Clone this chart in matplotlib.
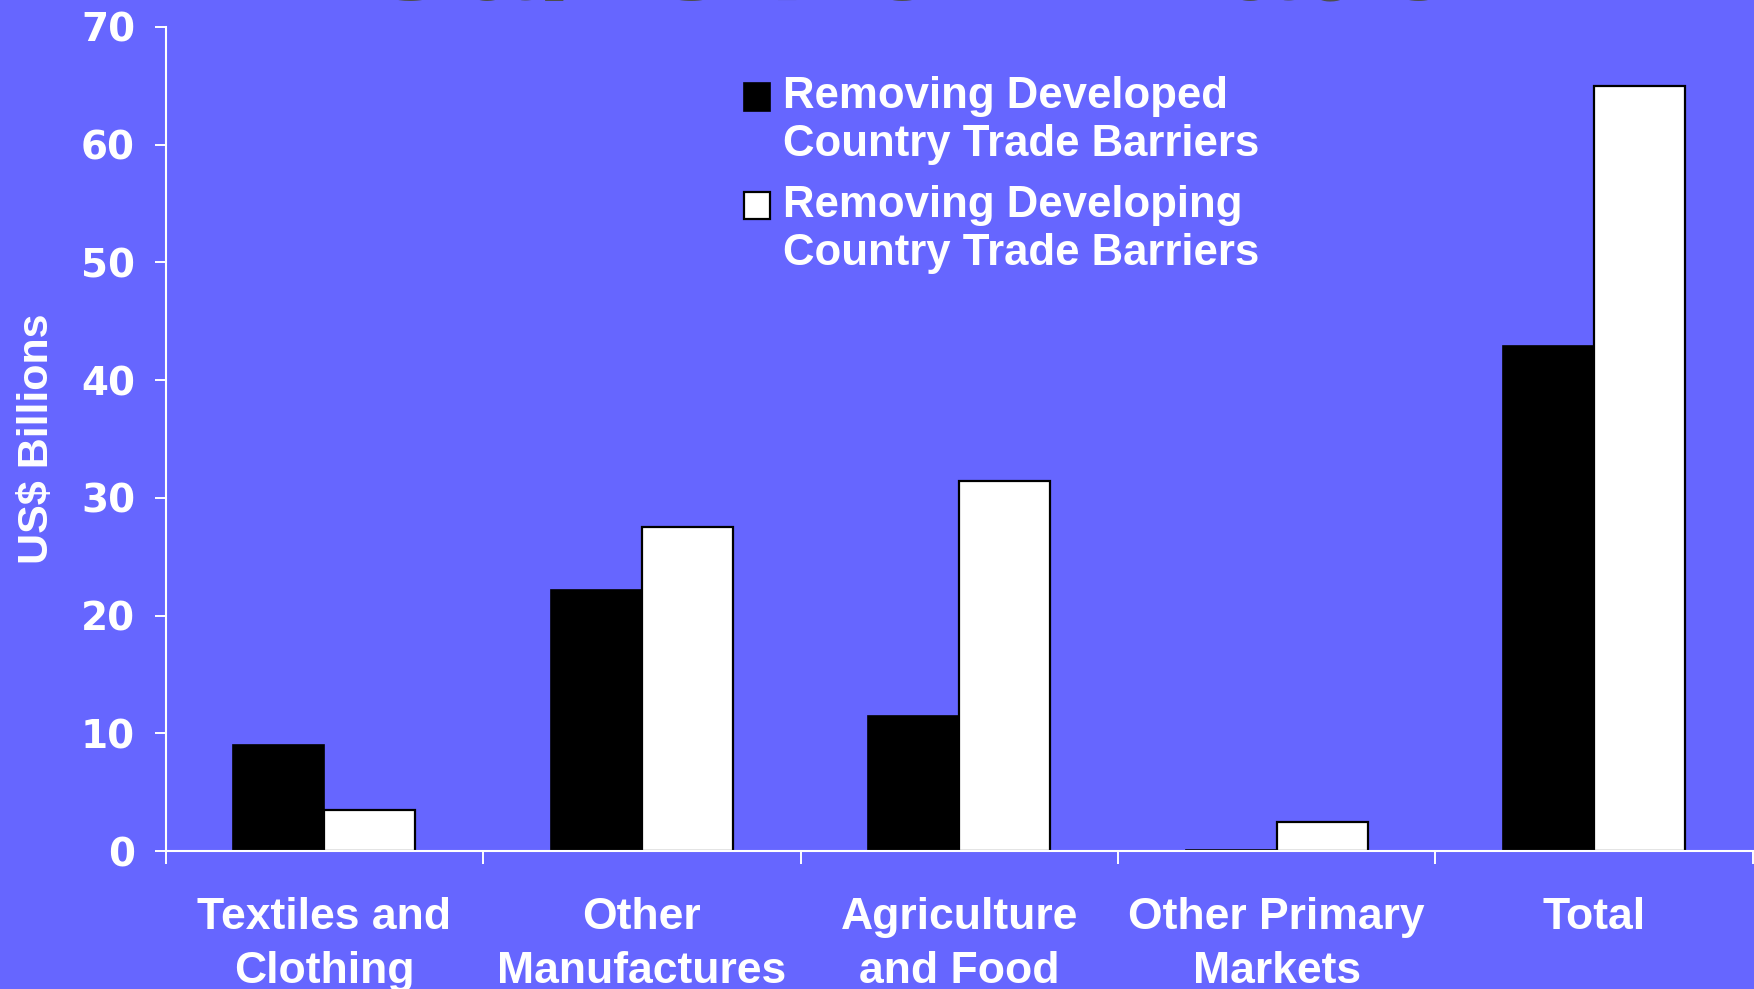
import matplotlib
matplotlib.use("Agg")
import matplotlib.pyplot as plt
import numpy as np
from matplotlib.container import BarContainer
from matplotlib.legend_handler import HandlerPatch, update_from_first_child
from matplotlib.patches import Rectangle

# data
categories = ["Textiles and\nClothing", "Other\nManufactures", "Agriculture\nand Food",
              "Other Primary\nMarkets", "Total"]
developed = [9.0, 22.2, 11.5, 0.1, 42.9]
developing = [3.5, 27.5, 31.4, 2.5, 65.0]
series_labels = ["Removing Developed\nCountry Trade Barriers",
                 "Removing Developing\nCountry Trade Barriers"]
yticks = [0, 10, 20, 30, 40, 50, 60, 70]

BG = "#6666FF"
TXT = "white"
LABEL_FONT = ["Liberation Sans", "DejaVu Sans"]


def top_line_box(legend, orig_handle, xdescent, ydescent, width, height, fontsize):
    # put the swatch beside the first line of a two-line label
    return Rectangle((-xdescent, -ydescent + fontsize * 0.56), width, height)


fig = plt.figure(figsize=(17.54, 9.89), dpi=100, facecolor=BG)
ax = fig.add_axes([0.0944, 0.1395, 0.9050, 0.8332], facecolor=BG)

x = np.arange(len(categories))
w = 0.287
ax.bar(x - w / 2, developed, w, color="black", edgecolor="black", linewidth=1.2,
       label=series_labels[0])
ax.bar(x + w / 2, developing, w, color="white", edgecolor="black", linewidth=1.6,
       label=series_labels[1])

ax.set_xlim(-0.5, len(categories) - 0.5)
ax.set_ylim(0, 70)

for side in ("top", "right"):
    ax.spines[side].set_visible(False)
for side in ("left", "bottom"):
    ax.spines[side].set_color(TXT)
    ax.spines[side].set_linewidth(1.5)

ax.set_yticks(yticks)
ax.set_yticklabels([str(v) for v in yticks], fontfamily="DejaVu Sans",
                   fontweight="bold", fontsize=28, color=TXT)
ax.tick_params(axis="y", direction="out", length=8, width=1.4, color=TXT, pad=14)

ax.set_xticks(x)
ax.set_xticklabels(categories, fontfamily=LABEL_FONT, fontweight="bold",
                   fontsize=32, color=TXT, linespacing=1.4)
ax.tick_params(axis="x", which="major", length=0, pad=33)
ax.set_xticks(np.arange(-0.5, len(categories)), minor=True)
ax.tick_params(axis="x", which="minor", direction="out", length=9.5, width=1.4, color=TXT)

ax.set_ylabel("US$ Billions", fontfamily=LABEL_FONT, fontweight="bold",
              fontsize=31, color=TXT, labelpad=17)

handler = HandlerPatch(patch_func=top_line_box, update_func=update_from_first_child)
leg = ax.legend(handler_map={BarContainer: handler},
                loc="upper left", bbox_to_anchor=(0.3505, 0.967), frameon=False,
                borderpad=0, handlelength=0.6, handleheight=0.6, handletextpad=0.3,
                labelspacing=0.45, prop={"family": LABEL_FONT, "weight": "bold", "size": 31.5})
for t in leg.get_texts():
    t.set_color(TXT)
    t.set_linespacing(1.22)

# slide title, mostly cut off by the top edge
fig.text(0.5166, 1.0005, "Gains from Trade", ha="center", va="baseline",
         fontfamily=LABEL_FONT, fontweight="bold", fontsize=96, color="#4D4D4D")

fig.savefig("out.png", dpi=100, facecolor=BG)
plt.close(fig)
